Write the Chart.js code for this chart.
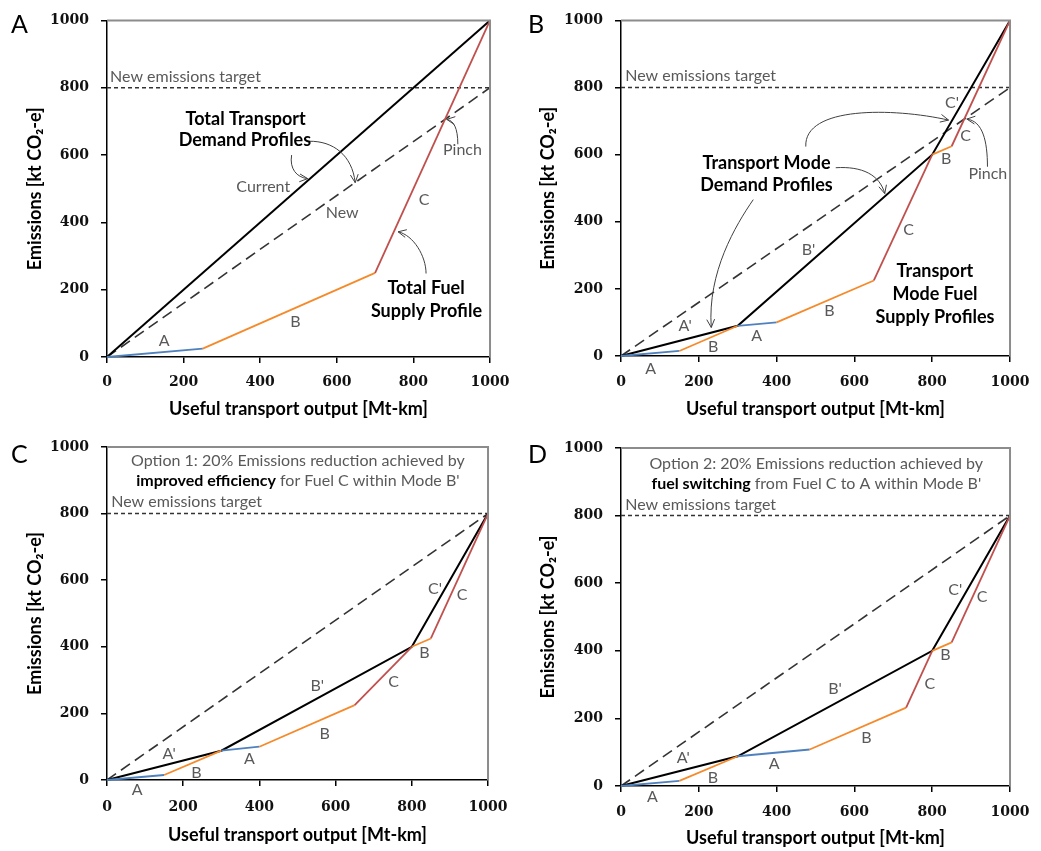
<!DOCTYPE html>
<html><head><meta charset="utf-8">
<script src="https://cdn.jsdelivr.net/npm/chart.js@4"></script>
<style>
body{margin:0;background:#fff;width:1041px;height:851px;position:relative;overflow:hidden}
canvas{position:absolute}
.plab{position:absolute;font-family:Lato,'Liberation Sans',sans-serif;font-size:25px;line-height:25px;color:#000}
</style></head><body>
<canvas id="cA" width="520" height="420" style="left:0;top:0"></canvas>
<canvas id="cB" width="521" height="420" style="left:520px;top:0"></canvas>
<canvas id="cC" width="520" height="431" style="left:0;top:420px"></canvas>
<canvas id="cD" width="521" height="431" style="left:520px;top:420px"></canvas>
<div class="plab" style="left:11px;top:11px">A</div>
<div class="plab" style="left:528px;top:11px">B</div>
<div class="plab" style="left:11px;top:441px">C</div>
<div class="plab" style="left:528px;top:441px">D</div>
<script>
// ---------- DATA ----------
const xTicks = [0, 200, 400, 600, 800, 1000];
const yTicks = [0, 200, 400, 600, 800, 1000];
const xTitle = 'Useful transport output [Mt-km]';
const yTitle = 'Emissions [kt CO₂-e]';

const targetLine = [[0, 800], [1000, 800]];
const newDemandLine = [[0, 0], [1000, 800]];

// Panel A
const aCurrentDemand = [[0, 0], [1000, 1000]];
const aSupply = [[0, 0], [250, 25], [700, 250], [1000, 1000]];
const aSupplyFuels = ['A', 'B', 'C'];

// Panel B
const bDemand = [[0, 0], [300, 90], [800, 600], [1000, 1000]];
const bSupply = [[0, 0], [150, 15], [300, 90], [400, 100], [650, 225], [800, 600], [850, 625], [1000, 1000]];
const bSupplyFuels = ['A', 'B', 'A', 'B', 'C', 'B', 'C'];

// Panel C
const cDemand = [[0, 0], [300, 88], [800, 400], [1000, 800]];
const cSupply = [[0, 0], [150, 15], [300, 88], [400, 100], [650, 225], [800, 400], [850, 425], [1000, 800]];
const cSupplyFuels = ['A', 'B', 'A', 'B', 'C', 'B', 'C'];

// Panel D
const dDemand = [[0, 0], [300, 88], [800, 400], [1000, 800]];
const dSupply = [[0, 0], [150, 15], [300, 88], [485, 108], [733, 232], [800, 400], [850, 425], [1000, 800]];
const dSupplyFuels = ['A', 'B', 'A', 'B', 'C', 'B', 'C'];

// ---------- STYLE ----------
const FUEL_COLORS = {A: '#4f81bd', B: '#f58a2b', C: '#c0504d'};
const GRAY = '#595959';
const SANS = "Lato, 'Liberation Sans', sans-serif";
const SERIF = "'DejaVu Serif', serif";

// annotations (data coordinates)
const ANN = {
  cA: {
    texts: [
      {t: 'New emissions target', x: 8, y: 832, align: 'left'},
      {t: 'Total Transport', x: 362, y: 706, bold: true},
      {t: 'Demand Profiles', x: 360, y: 643, bold: true},
      {t: 'Current', x: 408, y: 507},
      {t: 'New', x: 614, y: 429},
      {t: 'Pinch', x: 928, y: 614},
      {t: 'C', x: 828, y: 467},
      {t: 'Total Fuel', x: 833, y: 204, bold: true},
      {t: 'Supply Profile', x: 834, y: 137, bold: true},
      {t: 'B', x: 492, y: 103},
      {t: 'A', x: 149, y: 49}
    ],
    arrows: [
      {from: [528, 641], c1: [590, 642], c2: [640, 600], to: [648, 518]},
      {from: [482, 600], c1: [476, 560], c2: [495, 533], to: [524, 530]},
      {from: [916, 632], c1: [916, 680], c2: [905, 703], to: [887, 706]},
      {from: [833, 248], c1: [833, 300], c2: [800, 362], to: [760, 372]}
    ]
  },
  cB: {
    texts: [
      {t: 'New emissions target', x: 11, y: 836, align: 'left'},
      {t: 'Transport Mode', x: 374, y: 576, bold: true},
      {t: 'Demand Profiles', x: 374, y: 509, bold: true},
      {t: "C'", x: 851, y: 755},
      {t: 'C', x: 886, y: 655},
      {t: 'B', x: 836, y: 588},
      {t: 'Pinch', x: 943, y: 542},
      {t: 'C', x: 739, y: 375},
      {t: "B'", x: 482, y: 316},
      {t: 'Transport', x: 807, y: 252, bold: true},
      {t: 'Mode Fuel', x: 807, y: 184, bold: true},
      {t: 'Supply Profiles', x: 807, y: 117, bold: true},
      {t: 'B', x: 536, y: 134},
      {t: "A'", x: 165, y: 90},
      {t: 'A', x: 349, y: 61},
      {t: 'B', x: 237, y: 26},
      {t: 'A', x: 76, y: -37}
    ],
    arrows: [
      {from: [475, 624], c1: [470, 745], c2: [700, 740], to: [842, 703]},
      {from: [552, 561], c1: [620, 566], c2: [665, 540], to: [678, 484]},
      {from: [340, 466], c1: [295, 390], c2: [222, 250], to: [232, 85]},
      {from: [942, 564], c1: [942, 640], c2: [930, 700], to: [889, 706]}
    ]
  },
  cC: {
    rich: [
      {x: 501, y: 957, parts: [{t: 'Option 1: 20% Emissions reduction achieved by'}]},
      {x: 501, y: 897, parts: [{t: 'improved efficiency', bold: true}, {t: " for Fuel C within Mode B'"}]}
    ],
    texts: [
      {t: 'New emissions target', x: 11, y: 834, align: 'left'},
      {t: "C'", x: 861, y: 574},
      {t: 'C', x: 932, y: 556},
      {t: 'B', x: 833, y: 381},
      {t: 'C', x: 752, y: 296},
      {t: "B'", x: 552, y: 284},
      {t: 'B', x: 571, y: 140},
      {t: "A'", x: 163, y: 80},
      {t: 'A', x: 374, y: 65},
      {t: 'B', x: 235, y: 20},
      {t: 'A', x: 79, y: -30}
    ],
    arrows: []
  },
  cD: {
    rich: [
      {x: 502, y: 953, parts: [{t: 'Option 2: 20% Emissions reduction achieved by'}]},
      {x: 502, y: 893, parts: [{t: 'fuel switching', bold: true}, {t: " from Fuel C to A within Mode B'"}]}
    ],
    texts: [
      {t: 'New emissions target', x: 11, y: 833, align: 'left'},
      {t: "C'", x: 859, y: 579},
      {t: 'C', x: 928, y: 560},
      {t: 'B', x: 834, y: 387},
      {t: 'C', x: 794, y: 303},
      {t: "B'", x: 550, y: 288},
      {t: 'B', x: 631, y: 143},
      {t: "A'", x: 160, y: 84},
      {t: 'A', x: 394, y: 66},
      {t: 'B', x: 236, y: 25},
      {t: 'A', x: 81, y: -31}
    ],
    arrows: []
  }
};

const annotPlugin = {
  id: 'annot',
  afterDatasetsDraw(chart) {
    const ann = ANN[chart.canvas.id];
    const {ctx} = chart;
    const xs = chart.scales.x, ys = chart.scales.y;
    const ca = chart.chartArea;
    const px = v => xs.getPixelForValue(v), py = v => ys.getPixelForValue(v);
    ctx.save();
    // frame top/right
    ctx.strokeStyle = '#8c8c8c'; ctx.lineWidth = 2;
    ctx.beginPath(); ctx.moveTo(ca.left, ca.top); ctx.lineTo(ca.right, ca.top); ctx.lineTo(ca.right, ca.bottom); ctx.stroke();
    // arrows
    ctx.strokeStyle = '#404040'; ctx.lineWidth = 1;
    for (const a of ann.arrows) {
      const sx = px(a.from[0]), sy = py(a.from[1]);
      const c1x = px(a.c1[0]), c1y = py(a.c1[1]);
      const c2x = px(a.c2[0]), c2y = py(a.c2[1]);
      const ex = px(a.to[0]), ey = py(a.to[1]);
      ctx.beginPath(); ctx.moveTo(sx, sy); ctx.bezierCurveTo(c1x, c1y, c2x, c2y, ex, ey); ctx.stroke();
      const ang = Math.atan2(ey - c2y, ex - c2x), L = 9, w = 0.45;
      ctx.beginPath();
      ctx.moveTo(ex - L * Math.cos(ang - w), ey - L * Math.sin(ang - w));
      ctx.lineTo(ex, ey);
      ctx.lineTo(ex - L * Math.cos(ang + w), ey - L * Math.sin(ang + w));
      ctx.stroke();
    }
    // texts
    ctx.textBaseline = 'middle';
    for (const t of ann.texts) {
      ctx.font = t.bold ? `bold 18px ${SANS}` : `16px ${SANS}`;
      ctx.fillStyle = t.bold ? '#000' : GRAY;
      ctx.textAlign = t.align || 'center';
      ctx.fillText(t.t, px(t.x), py(t.y));
    }
    if (ann.rich) {
      ctx.textAlign = 'left';
      for (const r of ann.rich) {
        let total = 0;
        const ws = r.parts.map(p => { ctx.font = (p.bold ? 'bold ' : '') + `16px ${SANS}`; const w = ctx.measureText(p.t).width; total += w; return w; });
        let x0 = px(r.x) - total / 2;
        r.parts.forEach((p, i) => {
          ctx.font = (p.bold ? 'bold ' : '') + `16px ${SANS}`;
          ctx.fillStyle = p.bold ? '#000' : GRAY;
          ctx.fillText(p.t, x0, py(r.y));
          x0 += ws[i];
        });
      }
    }
    ctx.restore();
  }
};

function pts(a) { return a.map(([x, y]) => ({x, y})); }

function makePanel(id, g, demand, supply, fuels) {
  const datasets = [
    {data: pts(supply), borderColor: FUEL_COLORS.A, borderWidth: 1.8,
     segment: {borderColor: c => FUEL_COLORS[fuels[c.p0DataIndex]]}},
    {data: pts(demand), borderColor: '#000', borderWidth: 2},
    {data: pts(newDemandLine), borderColor: '#333', borderWidth: 1.6, borderDash: [11, 6]},
    {data: pts(targetLine), borderColor: '#333', borderWidth: 1.5, borderDash: [4, 3]}
  ];
  datasets.forEach(d => { d.showLine = true; d.pointRadius = 0; d.pointHoverRadius = 0; d.clip = false; d.fill = false; });
  const xAxisH = g.xTitleY + 10.8 - g.bottom;
  const tickFont = {family: SERIF, size: 14, weight: 'bold'};
  new Chart(document.getElementById(id), {
    type: 'scatter',
    data: {datasets},
    plugins: [annotPlugin],
    options: {
      responsive: false, animation: false, events: [],
      layout: {padding: {left: 0, top: g.top, right: g.w - g.right, bottom: g.h - g.bottom - xAxisH}},
      plugins: {legend: {display: false}, tooltip: {enabled: false}},
      scales: {
        x: {
          type: 'linear', min: 0, max: 1000,
          afterBuildTicks: s => { s.ticks = xTicks.map(v => ({value: v})); },
          afterFit: s => { s.height = xAxisH; },
          ticks: {font: tickFont, color: '#111', padding: g.xTickPad, maxRotation: 0, callback: v => String(v)},
          grid: {drawOnChartArea: false, tickLength: 6, color: '#000', lineWidth: 1.5},
          border: {color: '#000', width: 1.5},
          title: {display: true, text: xTitle, font: {family: SANS, size: 18, weight: 'bold'}, color: '#000', padding: 0}
        },
        y: {
          type: 'linear', min: 0, max: 1000,
          afterBuildTicks: s => { s.ticks = yTicks.map(v => ({value: v})); },
          afterFit: s => { s.width = g.left; },
          ticks: {font: tickFont, color: '#111', padding: 12, callback: v => String(v)},
          grid: {drawOnChartArea: false, tickLength: 6, color: '#000', lineWidth: 1.5},
          border: {color: '#000', width: 1.5},
          title: {display: true, text: yTitle, font: {family: SANS, size: 18, weight: 'bold'}, color: '#000', padding: {top: g.yTitleX - 10.8, bottom: 0}}
        }
      }
    }
  });
}

makePanel('cA', {w: 520, h: 420, left: 107, right: 500, top: 16, bottom: 357, xTitleY: 409, yTitleX: 35, xTickPad: 10.5}, aCurrentDemand, aSupply, aSupplyFuels);
makePanel('cB', {w: 521, h: 420, left: 101, right: 496, top: 16, bottom: 356, xTitleY: 409, yTitleX: 28, xTickPad: 11.5}, bDemand, bSupply, bSupplyFuels);
makePanel('cC', {w: 520, h: 431, left: 107, right: 502, top: 27, bottom: 360, xTitleY: 415, yTitleX: 35, xTickPad: 12.5}, cDemand, cSupply, cSupplyFuels);
makePanel('cD', {w: 521, h: 431, left: 101, right: 497, top: 28, bottom: 366, xTitleY: 418, yTitleX: 28, xTickPad: 11.5}, dDemand, dSupply, dSupplyFuels);
</script>
</body></html>
